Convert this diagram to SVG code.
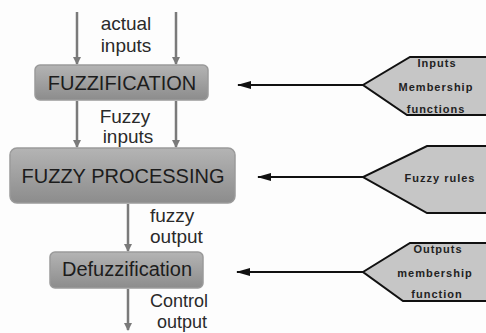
<svg xmlns="http://www.w3.org/2000/svg" width="486" height="333" viewBox="0 0 486 333">
<defs>
<linearGradient id="boxg" x1="0" y1="0" x2="0" y2="1">
<stop offset="0" stop-color="#b4b4b4"/>
<stop offset="1" stop-color="#8c8c8c"/>
</linearGradient>
<marker id="ga" markerWidth="8" markerHeight="8" refX="7" refY="4" orient="auto" markerUnits="userSpaceOnUse">
<path d="M0,0 L8,4 L0,8 Z" fill="#7a7a7a"/>
</marker>
<marker id="ba" markerWidth="14" markerHeight="8" refX="13" refY="4" orient="auto" markerUnits="userSpaceOnUse">
<path d="M0,0 L14,4 L0,8 Z" fill="#111"/>
</marker>
</defs>
<style>
.box{fill:url(#boxg);stroke:#9a9a9a;stroke-width:1.5}
.bt{font-family:"Liberation Sans",Arial,sans-serif;font-size:20px;fill:#1c1c1c;text-anchor:middle}
.lb{font-family:"Liberation Sans",Arial,sans-serif;font-size:19px;fill:#2a2a2a}
.sm{font-size:18px}
.pent{fill:#c6c6c6;stroke:#111;stroke-width:2}
.pt{font-family:"Liberation Sans",Arial,sans-serif;font-size:11px;font-weight:bold;fill:#222;text-anchor:middle;letter-spacing:1px}
.ga{stroke:#7a7a7a;stroke-width:2.5;fill:none;marker-end:url(#ga)}
.ba{stroke:#111;stroke-width:2;fill:none;marker-end:url(#ba)}
</style>
<rect width="486" height="333" fill="#fdfdfd"/>
<g id="connectors">
<line class="ga" x1="77" y1="12" x2="77" y2="64"/>
<line class="ga" x1="176" y1="12" x2="176" y2="64"/>
<line class="ga" x1="77" y1="101" x2="77" y2="147"/>
<line class="ga" x1="176" y1="101" x2="176" y2="147"/>
<line class="ga" x1="128" y1="204" x2="128" y2="251"/>
<line class="ga" x1="128" y1="289" x2="128" y2="330"/>
<line class="ba" x1="363" y1="85" x2="238" y2="85"/>
<line class="ba" x1="363" y1="177" x2="258" y2="177"/>
<line class="ba" x1="363" y1="272" x2="237" y2="272"/>
<text class="lb" x="126" y="30" text-anchor="middle">actual</text>
<text class="lb" x="126" y="52" text-anchor="middle">inputs</text>
<text class="lb" x="125" y="123" text-anchor="middle">Fuzzy</text>
<text class="lb" x="128" y="143" text-anchor="middle">inputs</text>
<text class="lb" x="150" y="222">fuzzy</text>
<text class="lb" x="150" y="243">output</text>
<text class="lb sm" x="150" y="307">Control</text>
<text class="lb sm" x="157" y="328">output</text>
</g>
<g id="fuzzification">
<rect class="box" x="35" y="65" width="173" height="35" rx="5"/>
<text class="bt" x="122" y="90">FUZZIFICATION</text>
</g>
<g id="fuzzy-processing">
<rect class="box" x="10" y="148" width="225" height="55" rx="7"/>
<text class="bt" x="123" y="183">FUZZY PROCESSING</text>
</g>
<g id="defuzzification">
<rect class="box" x="50" y="252" width="153" height="36" rx="5"/>
<text class="bt" x="127" y="276">Defuzzification</text>
</g>
<g id="inputs-mf">
<path class="pent" d="M490,57 L410,57 L363,85 L407,115 L490,115"/>
<text class="pt" x="437" y="67">Inputs</text>
<text class="pt" x="436" y="91">Membership</text>
<text class="pt" x="436" y="113">functions</text>
</g>
<g id="fuzzy-rules">
<path class="pent" d="M490,146 L427,146 L363,177 L427,213 L490,213"/>
<text class="pt" x="440" y="182">Fuzzy rules</text>
</g>
<g id="outputs-mf">
<path class="pent" d="M490,243 L410,243 L363,272 L403,301 L490,301"/>
<text class="pt" x="438" y="253">Outputs</text>
<text class="pt" x="435" y="277">membership</text>
<text class="pt" x="437" y="298">function</text>
</g>
</svg>
